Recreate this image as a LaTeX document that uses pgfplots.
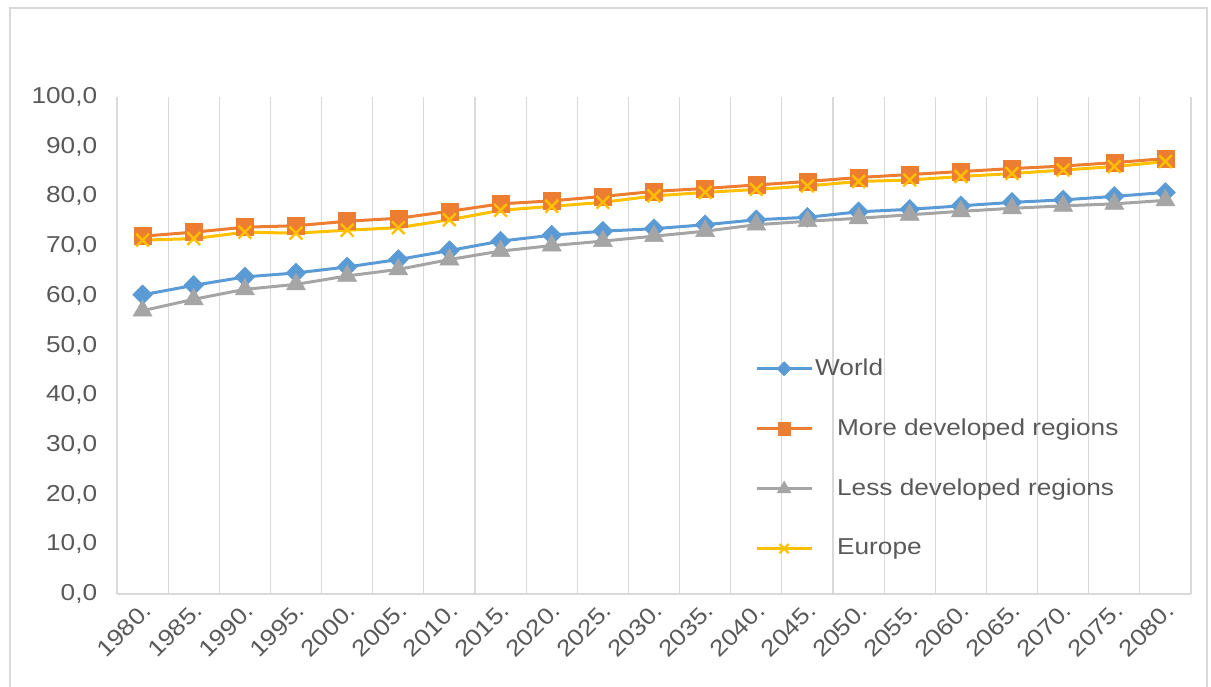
\documentclass[border=0pt]{standalone}
\usepackage{pgfplots}
\usepackage{pgfplotstable}
\pgfplotsset{compat=1.18}
\usepackage{fontspec}
\setmainfont[FakeStretch=1.14]{Liberation Sans}
\definecolor{cWorld}{HTML}{5B9BD5}
\definecolor{cMore}{HTML}{ED7D31}
\definecolor{cLess}{HTML}{A5A5A5}
\definecolor{cEur}{HTML}{FFC000}
\definecolor{txt}{HTML}{595959}
\definecolor{grd}{HTML}{D9D9D9}

\pgfplotstableread{
x World More Less Europe
0  60.2 72.0 57.0 71.2
1  62.1 72.8 59.3 71.5
2  63.8 73.8 61.3 72.8
3  64.6 74.1 62.3 72.6
4  65.8 75.0 64.0 73.2
5  67.3 75.6 65.3 73.7
6  69.1 77.0 67.3 75.3
7  71.0 78.5 69.0 77.2
8  72.2 79.1 70.1 78.0
9  73.0 80.0 71.0 78.8
10 73.5 81.0 72.0 80.1
11 74.3 81.6 73.0 80.8
12 75.3 82.3 74.3 81.4
13 75.8 83.0 75.0 82.1
14 76.9 83.8 75.6 83.0
15 77.4 84.4 76.3 83.3
16 78.1 85.0 77.0 84.0
17 78.8 85.6 77.6 84.6
18 79.3 86.1 78.1 85.3
19 80.0 86.8 78.5 86.0
20 80.8 87.6 79.2 87.0
}\data

\begin{document}
\fontsize{23}{27}\selectfont
\begin{tikzpicture}
\useasboundingbox (0pt,0pt) rectangle (1211pt,686pt);
\draw[grd, line width=2pt] (10pt,-10pt) rectangle (1207pt,678pt);
\begin{axis}[
  at={(117pt,92pt)}, anchor=south west,
  scale only axis, width=1074pt, height=497pt,
  xmin=-0.5, xmax=20.5, ymin=0, ymax=100,
  ytick={0,10,...,100},
  xtick={0,...,20},
  xticklabels={1980.,1985.,1990.,1995.,2000.,2005.,2010.,2015.,2020.,2025.,2030.,2035.,2040.,2045.,2050.,2055.,2060.,2065.,2070.,2075.,2080.},
  minor xtick={-0.5,0.5,...,20.5},
  xminorgrids=true,
  minor grid style={grd, line width=1.2pt},
  axis x line*=bottom, axis y line*=left,
  x axis line style={grd, line width=1.2pt},
  y axis line style={draw=none},
  major tick length=0pt, minor tick length=0pt,
  tick style={draw=none},
  tick label style={font=\fontsize{23}{27}\selectfont, text=txt},
  /pgf/number format/fixed, /pgf/number format/fixed zerofill,
  /pgf/number format/precision=1, /pgf/number format/use comma,
  /pgf/number format/assume math mode=true,
  yticklabel style={xshift=-12pt},
  xticklabel style={rotate=45, anchor=east, yshift=-12pt, xshift=2pt},
  legend style={draw=none, fill=none, at={(0.594,0.478)}, anchor=north west,
    font=\fontsize{23}{27}\selectfont, text=txt, row sep=36pt, column sep=0pt,
    inner sep=0pt},
  legend cell align=left,
  legend image code/.code={\draw[mark repeat=2,mark phase=2, every mark/.append style={scale=0.72}] plot coordinates {(0pt,0pt)(27.5pt,0pt)(55pt,0pt)};},
  every axis plot/.append style={line width=3pt},
]
\addplot[cWorld, mark=square*, mark size=7pt, mark options={rotate=45, fill=cWorld, draw=cWorld, line width=0.5pt}] table[x=x, y=World] {\data};
\addlegendentry{World}
\addplot[cMore, mark=square*, mark size=8.5pt, mark options={fill=cMore, draw=cMore, line width=0.5pt}] table[x=x, y=More] {\data};
\addlegendentry{\hspace*{22pt}More developed regions}
\addplot[cLess, mark=triangle*, mark size=11pt, mark options={fill=cLess, draw=cLess, line width=0.5pt}] table[x=x, y=Less] {\data};
\addlegendentry{\hspace*{22pt}Less developed regions}
\addplot[cEur, mark=x, mark size=9pt, mark options={draw=cEur, line width=2.4pt}] table[x=x, y=Europe] {\data};
\addlegendentry{\hspace*{22pt}Europe}
\end{axis}
\end{tikzpicture}
\end{document}
